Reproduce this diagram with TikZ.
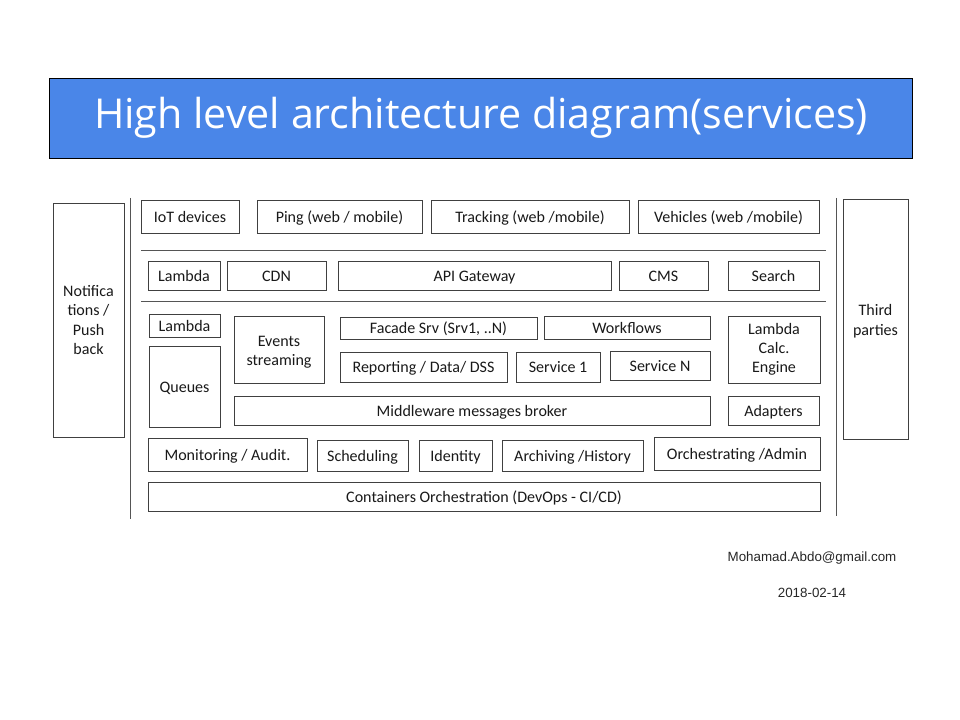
\documentclass[tikz,border=0pt]{standalone}
\usepackage{fontspec}
\setmainfont{Carlito}
\newfontfamily\titlefont{Open Sans}
\newfontfamily\arialfont{Liberation Sans}
\usetikzlibrary{positioning}
\definecolor{titleblue}{HTML}{4A86E8}
\definecolor{boxline}{HTML}{404040}
\definecolor{divline}{HTML}{555555}

\begin{document}
\begin{tikzpicture}[x=0.025cm, y=-0.025cm,
    comp/.style={draw=boxline, fill=white, line width=0.5pt,
                 align=center, inner sep=1pt, text=black!90,
                 font=\fontsize{11.4}{13.6}\selectfont},
    lbl/.style={comp, text height=10.5pt, text depth=2pt},
    divider/.style={draw=divline, line width=0.6pt}]
  \useasboundingbox (0,0) rectangle (960,720);

  % title banner
  \node[draw=black, fill=titleblue, line width=0.6pt, text=white,
        minimum width=21.55cm, minimum height=2cm,
        font=\titlefont\fontsize{29.3}{32}\selectfont] (title) at (481,118)
    {High level architecture diagram(services)};

  % side boxes
  \node[comp, minimum width=1.775cm, minimum height=5.85cm] (notif) at (88.5,320)
    {Notifica\\tions /\\Push\\back};
  \node[comp, minimum width=1.625cm, minimum height=6cm, anchor=north] (third) at (875.5,199)
    {\\[-3pt]Third\\parties};

  % dividers
  \draw[divider] (130,198) -- (130,519);
  \draw[divider] (836,198) -- (836,516);
  \draw[divider] (141,250) -- (826,250);
  \draw[divider] (141,301) -- (826,301);

  % clients
  \node[lbl, minimum width=2.45cm, minimum height=0.825cm] (iot) at (190,216.5) {IoT devices};
  \node[lbl, minimum width=4.125cm, minimum height=0.825cm] (ping) at (339.5,216.5) {Ping (web / mobile)};
  \node[lbl, minimum width=4.95cm, minimum height=0.825cm] (track) at (530,216.5) {Tracking (web /mobile)};
  \node[lbl, minimum width=4.525cm, minimum height=0.825cm] (vehic) at (728.5,216.5) {Vehicles (web /mobile)};

  % edge layer
  \node[lbl, minimum width=1.8cm, minimum height=0.725cm] (lambdaA) at (184,275.5) {Lambda};
  \node[lbl, minimum width=2.475cm, minimum height=0.725cm] (cdn) at (276.5,275.5) {CDN};
  \node[lbl, minimum width=6.825cm, minimum height=0.725cm] (api) at (474.5,275.5) {API Gateway};
  \node[lbl, minimum width=2.225cm, minimum height=0.725cm] (cms) at (663.5,275.5) {CMS};
  \node[lbl, minimum width=2.275cm, minimum height=0.725cm] (search) at (773.5,275.5) {Search};

  % services layer
  \node[lbl, minimum width=1.775cm, minimum height=0.575cm] (lambdaB) at (184.5,325.5) {Lambda};
  \node[lbl, minimum width=1.775cm, minimum height=2.025cm] (queues) at (184.5,386.5) {Queues};
  \node[comp, minimum width=2.25cm, minimum height=1.675cm, anchor=north] (events) at (279,316)
    {\\[-3.5pt]Events\\streaming};
  \node[lbl, minimum width=4.925cm, minimum height=0.55cm] (facade) at (438.5,328) {Facade Srv (Srv1, ..N)};
  \node[lbl, minimum width=4.15cm, minimum height=0.575cm] (wflow) at (627,327.5) {Workflows};
  \node[lbl, minimum width=4.175cm, minimum height=0.75cm] (report) at (423.5,367) {Reporting / Data/ DSS};
  \node[lbl, minimum width=2.1cm, minimum height=0.75cm] (srv1) at (558,367) {Service 1};
  \node[lbl, minimum width=2.5cm, minimum height=0.725cm] (srvN) at (660,365.5) {Service N};
  \node[comp, minimum width=2.3cm, minimum height=1.675cm, anchor=north] (calc) at (774,316)
    {\\[-6.5pt]Lambda\\Calc.\\Engine};
  \node[lbl, minimum width=11.9cm, minimum height=0.725cm] (broker) at (472,410.5) {Middleware messages broker};
  \node[lbl, minimum width=2.275cm, minimum height=0.725cm] (adapt) at (773.5,410.5) {Adapters};

  % support layer
  \node[lbl, minimum width=3.975cm, minimum height=0.825cm] (monit) at (227.5,454.5) {Monitoring / Audit.};
  \node[lbl, minimum width=2.275cm, minimum height=0.775cm] (sched) at (362.5,455.5) {Scheduling};
  \node[lbl, minimum width=1.825cm, minimum height=0.775cm] (ident) at (455.5,455.5) {Identity};
  \node[lbl, minimum width=3.525cm, minimum height=0.775cm] (arch) at (572.5,455.5) {Archiving /History};
  \node[lbl, minimum width=4.15cm, minimum height=0.825cm] (orch) at (737,453.5) {Orchestrating /Admin};
  \node[lbl, minimum width=16.8cm, minimum height=0.725cm] (cont) at (484,496.5) {Containers Orchestration (DevOps - CI/CD)};

  % footer
  \node[font=\arialfont\fontsize{9.5}{11}\selectfont, text=black!85] (mail) at (812,558) {Mohamad.Abdo@gmail.com};
  \node[font=\arialfont\fontsize{9.5}{11}\selectfont, text=black!85] (date) at (812,593) {2018-02-14};
\end{tikzpicture}
\end{document}
